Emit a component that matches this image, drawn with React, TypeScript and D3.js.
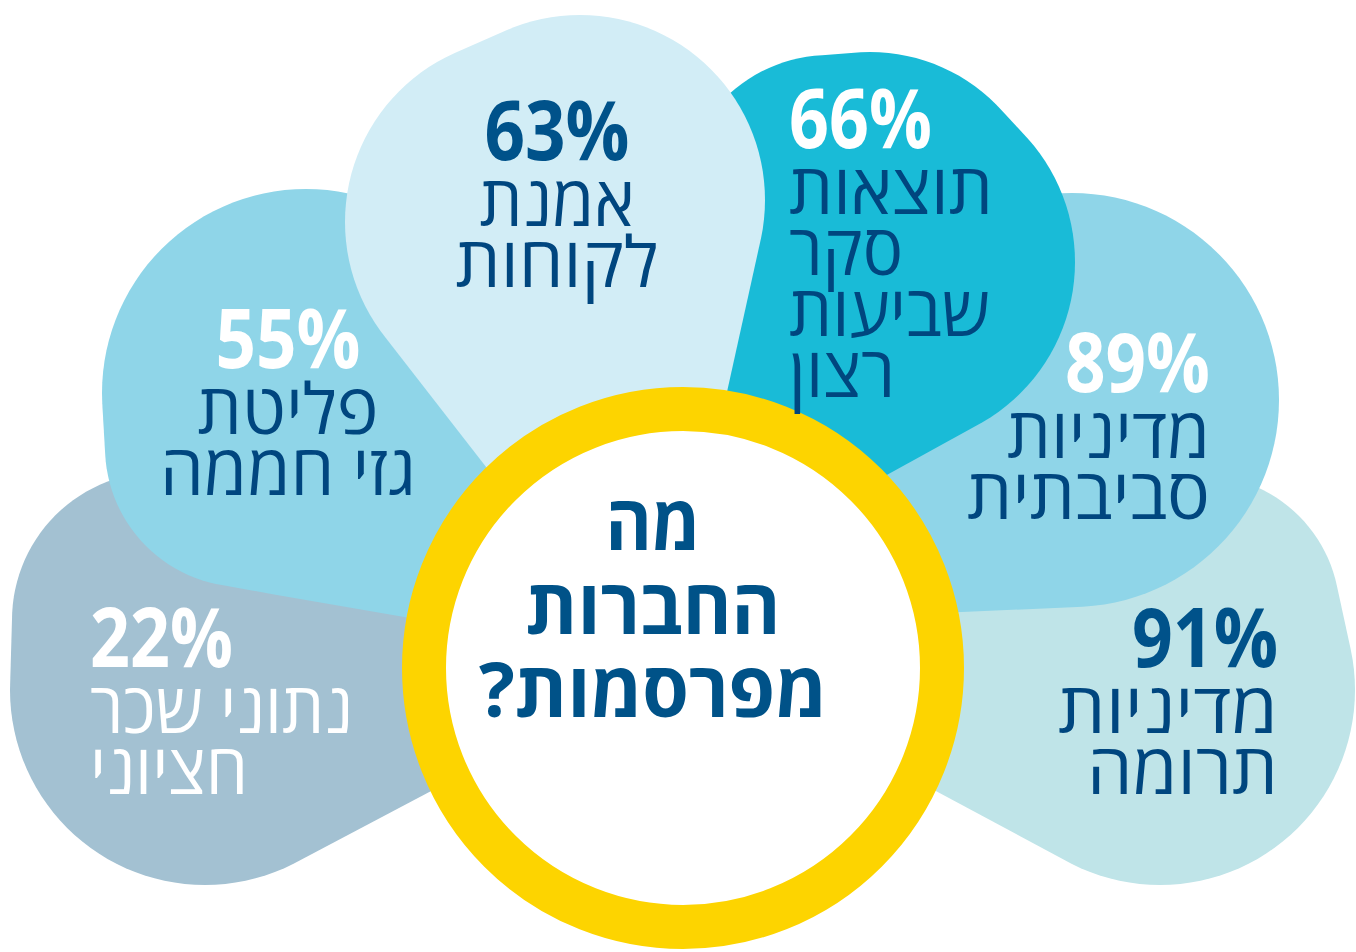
import React from 'react';
import * as d3 from 'd3';

// survey results: share of companies publishing each item
const values = [22, 55, 63, 66, 89, 91];
const labels = [
  ['נתוני שכר', 'חציוני'],
  ['פליטת', 'גזי חממה'],
  ['אמנת', 'לקוחות'],
  ['תוצאות', 'סקר', 'שביעות', 'רצון'],
  ['מדיניות', 'סביבתית'],
  ['מדיניות', 'תרומה'],
];
const centerLines = ['מה', 'החברות', 'מפרסמות?'];

const petalColors = ['#a3c1d2', '#8fd5e8', '#d2edf6', '#19bbd7', '#8fd5e8', '#bfe4e8'];
const valueColors = ['#ffffff', '#ffffff', '#00528a', '#ffffff', '#ffffff', '#00528a'];
const labelColors = ['#ffffff', '#00467f', '#00467f', '#00467f', '#00467f', '#00467f'];

const W = 1356;
const H = 952;
const CX = 683;
const CY = 668;

// petal outlines: hull of circles [dx, dy, r] relative to the centre
const petalCircles: [number, number, number][][] = [
  [[-478, 22, 195], [-523, -48, 148], [-83, -68, 90]],
  [[-377, -275, 204], [-438, -221, 140], [-83, -78, 60]],
  [[-153, -446, 185], [-103, -468, 185], [-43, -68, 40]],
  [[147, -463, 150], [187, -438, 178], [207, -406, 185], [-23, -108, 35]],
  [[389, -268, 207], [97, -98, 50]],
  [[477, 22, 195], [517, -53, 140], [87, -68, 90]],
];
const drawOrder = [0, 5, 1, 4, 3, 2];

// text blocks: anchor x, first baseline, anchor, value width, label widths
const textBlocks = [
  { x: 90, y: 667, anchor: 'start', vw: 143, lw: [263, 158] },
  { x: 288, y: 368, anchor: 'middle', vw: 145, lw: [181, 256] },
  { x: 557, y: 160, anchor: 'middle', vw: 145, lw: [155, 203] },
  { x: 789, y: 148, anchor: 'start', vw: 143, lw: [204, 114, 201, 106] },
  { x: 1210, y: 392, anchor: 'end', vw: 145, lw: [203, 243] },
  { x: 1278, y: 667, anchor: 'end', vw: 146, lw: [220, 191] },
];
const centerWidths = [95, 255, 348];

const FONT = "'Open Sans', 'Liberation Sans', 'DejaVu Sans', sans-serif";

function petalPath(circles: [number, number, number][]) {
  const pts: [number, number][] = [];
  circles.forEach(([dx, dy, r]) => {
    d3.range(120).forEach((i) => {
      const a = (i / 120) * Math.PI * 2;
      pts.push([CX + dx + r * Math.cos(a), CY + dy + r * Math.sin(a)]);
    });
  });
  const hull = d3.polygonHull(pts) || [];
  return d3.line().curve(d3.curveLinearClosed)(hull) || '';
}

export default function App() {
  const ringR = 259;
  const ringW = 44;
  return (
    <svg
      width={W}
      height={H}
      style={{ position: 'absolute', left: 0, top: 0, display: 'block', background: '#ffffff' }}
    >
      {drawOrder.map((i) => (
        <path key={'p' + i} d={petalPath(petalCircles[i])} fill={petalColors[i]} />
      ))}
      <circle cx={CX} cy={CY} r={ringR} fill="#ffffff" stroke="#fdd400" strokeWidth={ringW} />
      {textBlocks.map((b, i) => (
        <g key={'t' + i} fontFamily={FONT} textAnchor={b.anchor}>
          <text
            x={b.x}
            y={b.y}
            fontSize={82}
            fontWeight={700}
            fill={valueColors[i]}
            textLength={b.vw}
            lengthAdjust="spacingAndGlyphs"
          >
            {values[i] + '%'}
          </text>
          {labels[i].map((line, j) => (
            <text
              key={j}
              x={b.x}
              y={b.y + 65.5 + j * 61}
              fontSize={70}
              fontWeight={400}
              fill={labelColors[i]}
              textLength={b.lw[j]}
              lengthAdjust="spacingAndGlyphs"
            >
              {line}
            </text>
          ))}
        </g>
      ))}
      <g fontFamily={FONT} textAnchor="middle" fill="#005288" fontWeight={700}>
        {centerLines.map((line, j) => (
          <text
            key={j}
            x={CX - 30}
            y={550 + j * 83.5}
            fontSize={76}
            direction="rtl"
            textLength={centerWidths[j]}
            lengthAdjust="spacingAndGlyphs"
          >
            {line}
          </text>
        ))}
      </g>
    </svg>
  );
}
